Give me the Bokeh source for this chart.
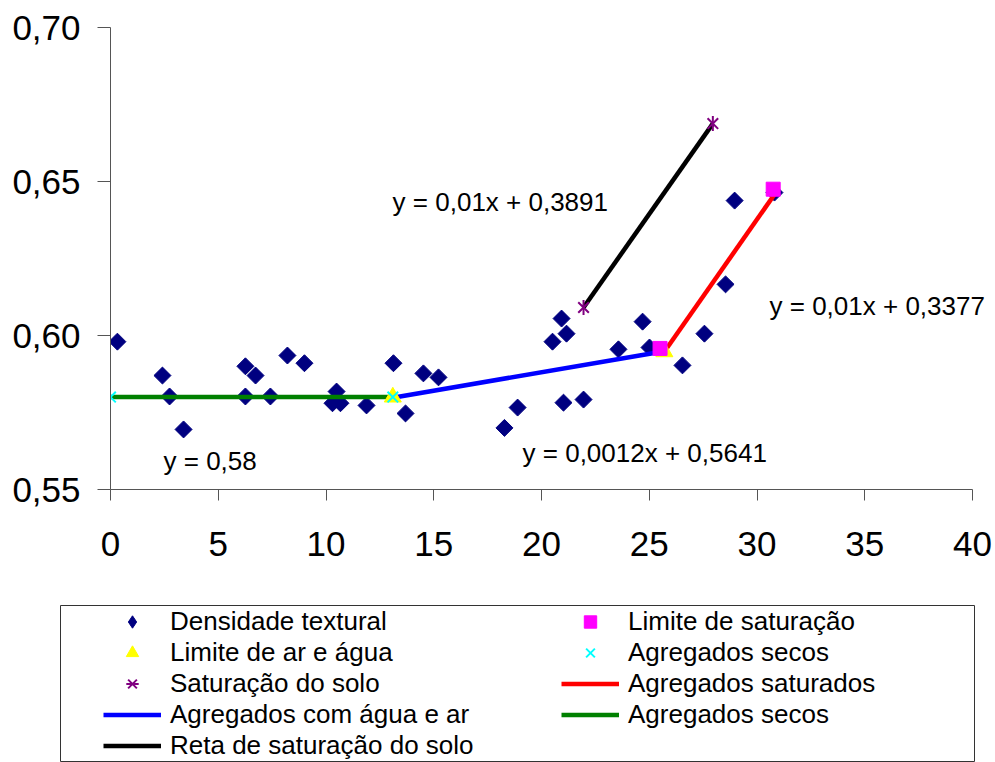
import numpy as np
from bokeh.plotting import figure
from bokeh.models import (Range1d, FixedTicker, CustomJSTickFormatter, Label,
                          Legend, LegendItem)
from bokeh.layouts import column
from bokeh.embed import file_html
from bokeh.resources import INLINE

# ---------------- data ----------------
xticks = [0, 5, 10, 15, 20, 25, 30, 35, 40]
yticks = [0.55, 0.60, 0.65, 0.70]

# Densidade textural
dens_x = [0.32, 2.41, 2.74, 3.39, 6.26, 6.26, 6.73, 7.42, 8.21, 9.00,
          10.49, 10.30, 10.67, 11.88, 13.13, 13.69, 14.52, 15.22, 18.28, 18.89,
          20.51, 20.93, 21.16, 21.02, 21.95, 23.57, 24.69, 25.01, 26.54, 27.56,
          28.54, 28.96, 30.81]
dens_y = [0.5980, 0.5870, 0.5802, 0.5695, 0.5900, 0.5802, 0.5870, 0.5802, 0.5935, 0.5910,
          0.5818, 0.5780, 0.5780, 0.5773, 0.5910, 0.5747, 0.5877, 0.5864, 0.5700, 0.5766,
          0.5980, 0.6055, 0.6006, 0.5782, 0.5792, 0.5955, 0.6045, 0.5961, 0.5903, 0.6006,
          0.6166, 0.6438, 0.6464]

# Limite de saturação
lim_sat_x = [25.50, 30.75]
lim_sat_y = [0.5958, 0.6475]
# Limite de ar e água
lim_ar_x = [13.10, 25.70]
lim_ar_y = [0.5800, 0.5947]
# Agregados secos (points)
secos_x = [0.0, 13.10]
secos_y = [0.580, 0.580]
# Saturação do solo
sat_solo_x = [21.95, 27.95]
sat_solo_y = [0.6091, 0.6688]
# Agregados saturados (line)
agr_sat_x = [25.70, 30.80]
agr_sat_y = [0.5947, 0.6457]
# Agregados com água e ar (line)
agr_ar_x = [13.10, 25.70]
agr_ar_y = [0.5798, 0.5949]
# Agregados secos (line)
agr_sec_x = [0.0, 13.10]
agr_sec_y = [0.580, 0.580]
# Reta de saturação do solo
reta_x = [21.95, 27.95]
reta_y = [0.6091, 0.6688]

eq_labels = ["y = 0,01x + 0,3891", "y = 0,01x + 0,3377", "y = 0,58", "y = 0,0012x + 0,5641"]

FONT = "Liberation Sans"

STYLES = {
    "dens": dict(marker="square", angle=np.pi / 4, size=12, fill_color="#000080", line_color="#000080"),
    "tri": dict(marker="triangle", size=17, fill_color="#FFFF00", line_color="#FFFF00"),
    "sq": dict(marker="square", size=14, fill_color="#FF00FF", line_color="#FF00FF"),
    "x": dict(marker="x", size=15, line_color="#00FFFF", line_width=2),
    "sx": dict(marker="x", size=15, line_color="#800080", line_width=2),
    "sd": dict(marker="dash", angle=np.pi / 2, size=15, line_color="#800080", line_width=2),
    "lsec": dict(line_color="#008000", line_width=4.5),
    "lar": dict(line_color="#0000FF", line_width=4.5),
    "lsat": dict(line_color="#FF0000", line_width=4.5),
    "reta": dict(line_color="#000000", line_width=4.5),
}


def draw_series(fig, dens_style):
    r = {}
    r["dens"] = fig.scatter(dens_x, dens_y, **dens_style)
    r["lsec"] = fig.line(agr_sec_x, agr_sec_y, **STYLES["lsec"])
    r["lar"] = fig.line(agr_ar_x, agr_ar_y, **STYLES["lar"])
    r["lsat"] = fig.line(agr_sat_x, agr_sat_y, **STYLES["lsat"])
    r["reta"] = fig.line(reta_x, reta_y, **STYLES["reta"])
    r["tri"] = fig.scatter(lim_ar_x, lim_ar_y, **STYLES["tri"])
    r["sq"] = fig.scatter(lim_sat_x, lim_sat_y, **STYLES["sq"])
    r["x"] = fig.scatter(secos_x, secos_y, **STYLES["x"])
    r["sx"] = fig.scatter(sat_solo_x, sat_solo_y, **STYLES["sx"])
    r["sd"] = fig.scatter(sat_solo_x, sat_solo_y, **STYLES["sd"])
    return r


# ---------------- main plot ----------------
p = figure(width=995, height=604, output_backend="svg", toolbar_location=None,
           x_range=Range1d(0, 40.88), y_range=Range1d(0.55, 0.70),
           min_border_left=110, min_border_right=4, min_border_top=27,
           min_border_bottom=115)
p.outline_line_color = None
p.grid.visible = False
p.background_fill_color = "white"

p.xaxis.ticker = FixedTicker(ticks=xticks)
p.yaxis.ticker = FixedTicker(ticks=yticks)
p.xaxis.bounds = (0, 40)
p.yaxis.formatter = CustomJSTickFormatter(code="return tick.toFixed(2).replace('.', ',');")
for ax in (p.xaxis, p.yaxis):
    ax.axis_line_color = "#555555"
    ax.major_tick_line_color = "#555555"
    ax.minor_tick_line_color = None
    ax.major_tick_in = 0
    ax.major_label_text_font = FONT
    ax.major_label_text_font_size = "35px"
    ax.major_label_text_color = "black"
p.xaxis.major_tick_out = 11
p.yaxis.major_tick_out = 13
p.xaxis.major_label_standoff = 31
p.yaxis.major_label_standoff = 17

draw_series(p, STYLES["dens"])

label_pos = [(13.09, 0.6433), (30.58, 0.6097), (2.46, 0.5594), (19.12, 0.5620)]
for txt, (lx, ly) in zip(eq_labels, label_pos):
    p.add_layout(Label(x=lx, y=ly, text=txt, text_font=FONT, text_font_size="26px",
                       text_color="black", text_baseline="middle", text_align="left"))

# ---------------- legend box (series drawn off-range; only the legend shows) ----------------
q = figure(width=995, height=158, output_backend="svg", toolbar_location=None,
           x_range=Range1d(-10, -9), y_range=Range1d(-10, -9),
           x_axis_type=None, y_axis_type=None,
           min_border_left=60, min_border_right=21, min_border_top=1, min_border_bottom=0)
q.outline_line_color = "#333333"
q.outline_line_width = 1
q.grid.visible = False
for fig in (p, q):
    if "frame_align" in fig.properties():
        fig.frame_align = False

lr = draw_series(q, dict(marker="diamond", size=14, fill_color="#000080", line_color="#000080"))

common = dict(orientation="vertical", glyph_width=58, glyph_height=31, label_height=31,
              spacing=0, label_standoff=9, margin=0, padding=0,
              label_text_font=FONT, label_text_font_size="26px",
              label_text_color="black", label_text_baseline="middle",
              border_line_alpha=0, background_fill_alpha=0)

leg1 = Legend(items=[
    LegendItem(label="Densidade textural", renderers=[lr["dens"]]),
    LegendItem(label="Limite de ar e água", renderers=[lr["tri"]]),
    LegendItem(label="Saturação do solo", renderers=[lr["sx"], lr["sd"]]),
    LegendItem(label="Agregados com água e ar", renderers=[lr["lar"]]),
    LegendItem(label="Reta de saturação do solo", renderers=[lr["reta"]]),
], location=(43, 1), **common)

leg2 = Legend(items=[
    LegendItem(label="Limite de saturação", renderers=[lr["sq"]]),
    LegendItem(label="Agregados secos", renderers=[lr["x"]]),
    LegendItem(label="Agregados saturados", renderers=[lr["lsat"]]),
    LegendItem(label="Agregados secos", renderers=[lr["lsec"]]),
], location=(501, 32), **common)

q.add_layout(leg1)
q.add_layout(leg2)

layout = column(p, q, spacing=0)
open("out.html", "w").write(file_html(layout, INLINE))
